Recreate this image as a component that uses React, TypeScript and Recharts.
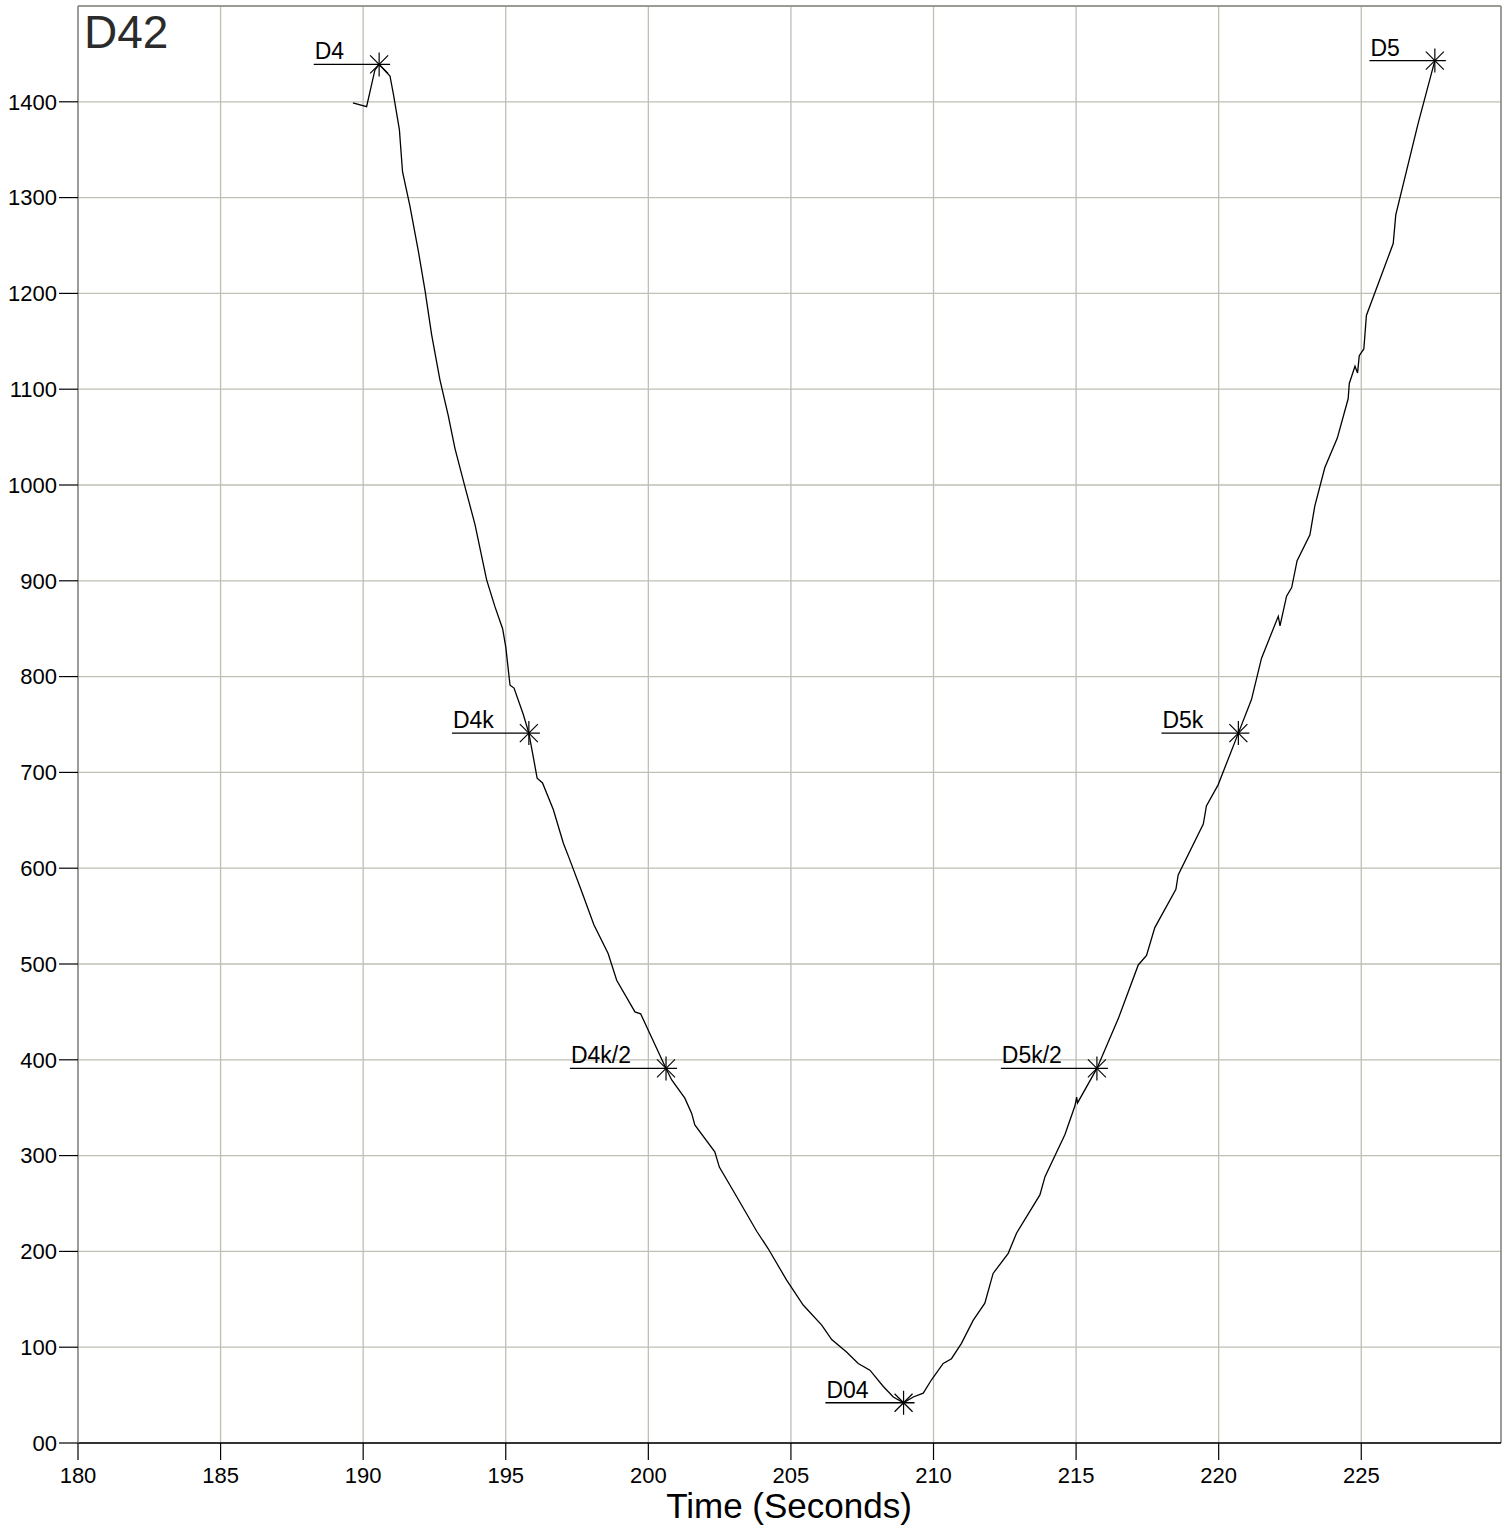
import React from 'react';
import {
  ComposedChart,
  Line,
  Scatter,
  XAxis,
  YAxis,
  CartesianGrid,
  ReferenceLine,
} from 'recharts';

// time (s) and reading
const times = [
  189.64, 190.12, 190.41, 190.56, 190.94, 191.06, 191.27, 191.38, 191.64, 191.93,
  192.17, 192.4, 192.69, 192.98, 193.22, 193.57, 193.92, 194.33, 194.62, 194.89,
  195.0, 195.15, 195.29, 195.61, 195.81, 195.96, 196.1, 196.29, 196.67, 197.02,
  197.23, 197.66, 198.09, 198.59, 198.89, 199.53, 199.73, 200.12, 200.62, 200.82,
  201.28, 201.52, 201.63, 202.33, 202.49, 203.1, 203.8, 204.2, 204.85, 205.43,
  206.08, 206.43, 206.95, 207.36, 207.77, 208.24, 208.59, 208.95, 209.29, 209.64,
  209.93, 210.34, 210.63, 210.98, 211.39, 211.8, 212.09, 212.62, 212.91, 213.73,
  213.91, 214.61, 214.96, 215.02, 215.05, 215.73, 216.48, 217.18, 217.47, 217.76,
  218.5, 218.58, 219.46, 219.57, 219.98, 220.69, 221.15, 221.5, 222.09, 222.15,
  222.38, 222.56, 222.75, 223.2, 223.37, 223.72, 224.16, 224.54, 224.58, 224.78,
  224.87, 224.93, 225.09, 225.18, 226.12, 226.21, 226.99, 227.58,
];
const values = [
  1399, 1395, 1433, 1439, 1427, 1408, 1371, 1327, 1291, 1245,
  1203, 1157, 1110, 1073, 1038, 998, 959, 901, 873, 850,
  831, 791, 788, 761, 741, 717, 694, 689, 661, 626,
  610, 576, 541, 511, 483, 450, 448, 423, 391, 379,
  360, 344, 332, 304, 288, 257, 221, 203, 170, 144,
  123, 108, 95, 83, 76, 59, 48, 42, 48, 52,
  66, 83, 88, 104, 128, 146, 177, 198, 219, 259,
  278, 322, 352, 361, 355, 391, 443, 499, 509, 538,
  578, 593, 646, 665, 687, 741, 776, 819, 863, 853,
  884, 893, 921, 948, 978, 1018, 1049, 1090, 1106, 1124,
  1117, 1135, 1142, 1177, 1252, 1282, 1377, 1443,
];

const markerLabels = ['D4', 'D4k', 'D4k/2', 'D04', 'D5k/2', 'D5k', 'D5'];
const markerTimes = [190.56, 195.81, 200.62, 208.95, 215.73, 220.69, 227.58];
const markerValues = [1439, 741, 391, 42, 391, 741, 1443];

const xTicks = [180, 185, 190, 195, 200, 205, 210, 215, 220, 225];
const yTicks = [0, 100, 200, 300, 400, 500, 600, 700, 800, 900, 1000, 1100, 1200, 1300, 1400];

const curve = times.map((t, i) => ({ t, v: values[i] }));
const markers = markerLabels.map((label, i) => ({
  label,
  t: markerTimes[i],
  v: markerValues[i],
}));

const FONT = '"Liberation Sans", Arial, sans-serif';
const GRID = '#bfbfb4';
const LABEL_SIZE = 23;

// rough Arial advance widths, for sizing the leader line
const charWidth: Record<string, number> = {
  D: 0.722, k: 0.5, '/': 0.278,
};
function textWidth(s: string) {
  let w = 0;
  for (const ch of s) w += charWidth[ch] ?? 0.556;
  return w * LABEL_SIZE;
}

function StarMarker(props: any) {
  const { cx, cy, payload } = props;
  if (cx == null || cy == null) return null;
  const left = cx - textWidth(payload.label) - 36;
  return (
    <g>
      <line x1={left} y1={cy} x2={cx + 11} y2={cy} stroke="#000" strokeWidth={1.3} />
      <line x1={cx} y1={cy - 12} x2={cx} y2={cy + 12} stroke="#000" strokeWidth={1.2} />
      <line x1={cx - 9} y1={cy - 9} x2={cx + 9} y2={cy + 9} stroke="#000" strokeWidth={1.2} />
      <line x1={cx - 9} y1={cy + 9} x2={cx + 9} y2={cy - 9} stroke="#000" strokeWidth={1.2} />
      <text x={left + 1} y={cy - 5} fontSize={LABEL_SIZE} fontFamily={FONT} fill="#000">
        {payload.label}
      </text>
    </g>
  );
}

export default function App() {
  return (
    <div style={{ position: 'relative', width: 1510, height: 1529, fontFamily: FONT }}>
      <style>{'body{margin:0;background:#fff}'}</style>
      <ComposedChart
        width={1510}
        height={1529}
        margin={{ top: 6, right: 9, left: 0, bottom: 0 }}
      >
        <CartesianGrid stroke={GRID} strokeWidth={1.3} />
        <XAxis
          type="number"
          dataKey="t"
          domain={[180, 229.9]}
          ticks={xTicks}
          height={86}
          tickSize={17}
          tickMargin={7}
          axisLine={{ stroke: '#000', strokeWidth: 1.5 }}
          tickLine={{ stroke: '#000', strokeWidth: 1.2 }}
          tick={{ fill: '#000', fontSize: 22, fontFamily: FONT }}
          allowDataOverflow
        />
        <YAxis
          type="number"
          dataKey="v"
          domain={[0, 1500]}
          ticks={yTicks}
          width={78}
          tickSize={19}
          tickMargin={2}
          tickFormatter={(v) => (v === 0 ? '00' : String(v))}
          axisLine={{ stroke: '#8a8a84', strokeWidth: 1.5 }}
          tickLine={{ stroke: '#000', strokeWidth: 1.2 }}
          tick={{ fill: '#000', fontSize: 22, fontFamily: FONT }}
          allowDataOverflow
        />
        <ReferenceLine y={1500} stroke="#8a8a84" strokeWidth={1.5} />
        <ReferenceLine x={229.9} stroke="#8a8a84" strokeWidth={1.5} />
        <Line
          data={curve}
          dataKey="v"
          type="linear"
          stroke="#000"
          strokeWidth={1.3}
          dot={false}
          activeDot={false}
          isAnimationActive={false}
        />
        <Scatter
          data={markers}
          dataKey="v"
          shape={StarMarker}
          isAnimationActive={false}
        />
      </ComposedChart>
      <svg
        width={1510}
        height={1529}
        style={{ position: 'absolute', left: 0, top: 0, pointerEvents: 'none' }}
      >
        <text x={84} y={48} fontSize={46} fontFamily={FONT} fill="#2b2b2b">
          D42
        </text>
        <text x={789} y={1518} fontSize={35} fontFamily={FONT} fill="#000" textAnchor="middle">
          Time (Seconds)
        </text>
      </svg>
    </div>
  );
}
